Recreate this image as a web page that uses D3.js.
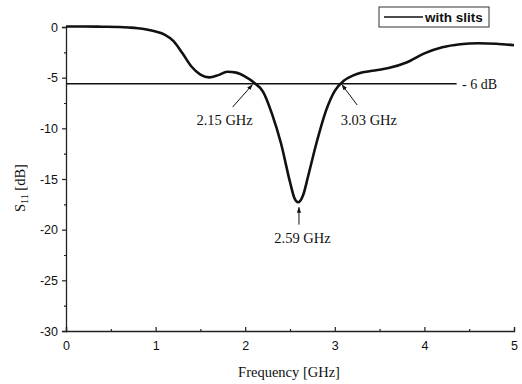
<!DOCTYPE html>
<html><head><meta charset="utf-8">
<script src="https://cdn.jsdelivr.net/npm/d3@7"></script>
<style>body{margin:0;background:#fff}svg{display:block}</style>
</head><body><svg id="c" width="522" height="384"></svg>
<script>
const freq = [0,0.2,0.4,0.6,0.7,0.8,0.9,1.0,1.1,1.2,1.3,1.4,1.5,1.6,1.7,1.8,1.9,2.0,2.1,2.2,2.3,2.4,2.5,2.55,2.59,2.65,2.7,2.8,2.9,3.0,3.1,3.2,3.3,3.4,3.5,3.6,3.8,4.0,4.2,4.4,4.6,4.8,5.0];
const s11 = [0.05,0.05,0.03,0,-0.05,-0.12,-0.25,-0.45,-0.75,-1.4,-2.6,-3.9,-4.7,-4.97,-4.75,-4.42,-4.5,-4.9,-5.5,-6.4,-8.6,-11.5,-15.3,-16.9,-17.3,-16.5,-14.8,-11.3,-8.3,-6.3,-5.3,-4.8,-4.5,-4.35,-4.22,-4.05,-3.5,-2.6,-2.0,-1.7,-1.6,-1.65,-1.8];
const xTicks = [0,1,2,3,4,5];
const yTicks = [0,-5,-10,-15,-20,-25,-30];
const refLevel = -5.6;
const refLabel = "- 6 dB";
// label position (tx,ty), arrow tail (ax,ay), arrow head (f,db)
const markers = [
  {label:"2.15 GHz", tx:1.77, ty:-9.7, ax:1.86, ay:-7.9, f:2.08, db:-5.7},
  {label:"3.03 GHz", tx:3.38, ty:-9.7, ax:3.25, ay:-7.7, f:3.08, db:-5.7},
  {label:"2.59 GHz", tx:2.64, ty:-21.3, ax:2.60, ay:-19.5, f:2.60, db:-17.8}
];
const legendLabel = "with slits";

const svg = d3.select("#c");
const x = d3.scaleLinear().domain([0,5]).range([66,514]);
const y = d3.scaleLinear().domain([-30,0]).range([331,27]);
const serif = "'Liberation Serif', 'Times New Roman', serif";
const sans = "Arial, 'Liberation Sans', sans-serif";

// axes
const gx = svg.append("g").attr("transform","translate(0,331)")
  .call(d3.axisBottom(x).tickValues(xTicks).tickSize(-4).tickPadding(10).tickFormat(d3.format("d")));
const gxm = svg.append("g").attr("transform","translate(0,331)")
  .call(d3.axisBottom(x).tickValues([0.5,1.5,2.5,3.5,4.5]).tickSize(-2).tickFormat(""));
const gy = svg.append("g").attr("transform","translate(66,0)")
  .call(d3.axisLeft(y).tickValues(yTicks).tickSize(4).tickPadding(4).tickFormat(d => d===0?"0":"-"+Math.abs(d)));
const gym = svg.append("g").attr("transform","translate(66,0)")
  .call(d3.axisLeft(y).tickValues([-2.5,-7.5,-12.5,-17.5,-22.5,-27.5]).tickSize(2).tickFormat(""));
[gx,gxm,gy,gym].forEach(g=>{
  g.select(".domain").attr("stroke","#222").attr("stroke-width",1.3);
  g.selectAll(".tick line").attr("stroke","#222").attr("stroke-width",1.2);
  g.selectAll("text").attr("font-family",sans).attr("font-size",12.5).attr("fill","#111");
});
gxm.select(".domain").remove(); gym.select(".domain").remove();

// reference line
svg.append("line").attr("x1",x(0)).attr("x2",x(4.36)).attr("y1",y(refLevel)).attr("y2",y(refLevel))
  .attr("stroke","#111").attr("stroke-width",1.6);
svg.append("text").attr("x",x(4.42)).attr("y",y(refLevel)+5).text(refLabel)
  .attr("font-family",serif).attr("font-size",14).attr("fill","#111");

// curve
const line = d3.line().x((d,i)=>x(freq[i])).y(d=>y(d)).curve(d3.curveMonotoneX);
svg.append("path").attr("d",line(s11)).attr("fill","none").attr("stroke","#111").attr("stroke-width",2.6);

// markers with arrows
svg.append("defs").append("marker").attr("id","ah").attr("viewBox","0 0 10 10").attr("refX",9).attr("refY",5)
  .attr("markerWidth",6).attr("markerHeight",6).attr("orient","auto")
  .append("path").attr("d","M0,1.5 L10,5 L0,8.5 z").attr("fill","#111");
markers.forEach(m=>{
  svg.append("text").attr("x",x(m.tx)).attr("y",y(m.ty)).attr("text-anchor","middle").text(m.label)
    .attr("font-family",serif).attr("font-size",14.5).attr("fill","#111");
  svg.append("line").attr("x1",x(m.ax)).attr("y1",y(m.ay)).attr("x2",x(m.f)).attr("y2",y(m.db))
    .attr("stroke","#111").attr("stroke-width",1).attr("marker-end","url(#ah)");
});

// legend
const lg = svg.append("g");
lg.append("rect").attr("x",379).attr("y",7).attr("width",110).attr("height",20).attr("fill","#fff").attr("stroke","#333").attr("stroke-width",1);
lg.append("line").attr("x1",384).attr("x2",423).attr("y1",17).attr("y2",17).attr("stroke","#111").attr("stroke-width",1.6);
lg.append("text").attr("x",425).attr("y",22).text(legendLabel).attr("font-family",sans)
  .attr("font-size",13.5).attr("font-weight","bold").attr("fill","#111");

// axis titles
svg.append("text").attr("x",289).attr("y",377).attr("text-anchor","middle").text("Frequency [GHz]")
  .attr("font-family",serif).attr("font-size",14.5).attr("fill","#111");
const yt = svg.append("text").attr("transform","translate(25,188) rotate(-90)").attr("text-anchor","middle")
  .attr("font-family",serif).attr("font-size",14.5).attr("fill","#111");
yt.append("tspan").text("S");
yt.append("tspan").attr("font-size",10).attr("dy",3).text("11");
yt.append("tspan").attr("dy",-3).text(" [dB]");
</script></body></html>
